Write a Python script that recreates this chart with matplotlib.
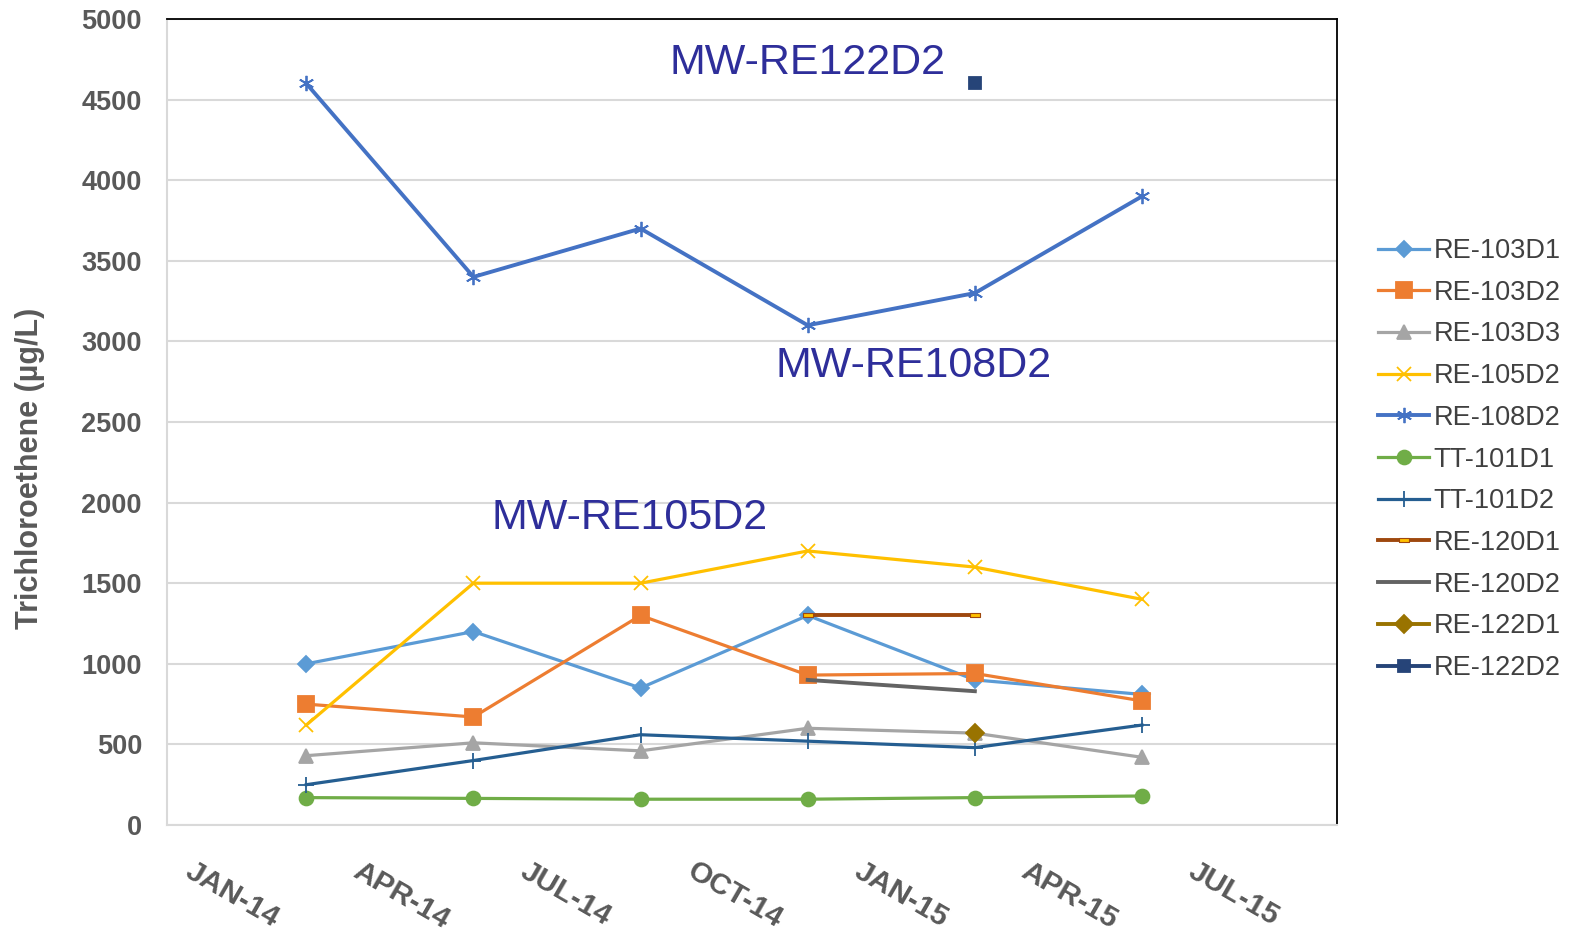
import numpy as np
import matplotlib
matplotlib.use('Agg')
import matplotlib.pyplot as plt

plt.rcParams['font.family'] = ['Liberation Sans', 'DejaVu Sans']

# sample months, counted from Jan-2014
meses = [2, 5, 8, 11, 14, 17]
ticks_meses = [0, 3, 6, 9, 12, 15, 18]
ticks_etiquetas = ['JAN-14', 'APR-14', 'JUL-14', 'OCT-14', 'JAN-15', 'APR-15', 'JUL-15']

nan = np.nan
re103d1 = [1000, 1200, 850, 1300, 900, 810]
re103d2 = [750, 670, 1300, 930, 940, 770]
re103d3 = [430, 510, 460, 600, 570, 420]
re105d2 = [620, 1500, 1500, 1700, 1600, 1400]
re108d2 = [4600, 3400, 3700, 3100, 3300, 3900]
tt101d1 = [170, 165, 160, 160, 170, 180]
tt101d2 = [250, 400, 560, 520, 480, 620]
re120d1 = [nan, nan, nan, 1300, 1300, nan]
re120d2 = [nan, nan, nan, 900, 830, nan]
re122d1 = [nan, nan, nan, nan, 570, nan]
re122d2 = [nan, nan, nan, nan, 4600, nan]

yticks = list(range(0, 5001, 500))

etiquetas = [('MW-RE122D2', 11.0, 4727), ('MW-RE108D2', 12.9, 2848), ('MW-RE105D2', 7.8, 1905)]

gris = '#595959'
fig = plt.figure(figsize=(15.78, 9.36), dpi=100)
ax = fig.add_axes([167 / 1578, 111 / 936, 1170 / 1578, 806 / 936])

dash_marker = [(-1, -0.45), (1, -0.45), (1, 0.45), (-1, 0.45), (-1, -0.45)]

series = [
    ('RE-103D1', re103d1, '#5B9BD5', 'D', 8, 2.3),
    ('RE-103D2', re103d2, '#ED7D31', 's', 11, 2.3),
    ('RE-103D3', re103d3, '#A5A5A5', '^', 10, 2.3),
    ('RE-105D2', re105d2, '#FFC000', 'x', 10, 2.3),
    ('RE-108D2', re108d2, '#4472C4', (6, 2, 0), 11, 2.8),
    ('TT-101D1', tt101d1, '#70AD47', 'o', 10, 2.3),
    ('TT-101D2', tt101d2, '#255E91', '+', 12, 2.3),
    ('RE-120D1', re120d1, '#9E480E', dash_marker, 7, 2.8),
    ('RE-120D2', re120d2, '#636363', None, 8, 2.8),
    ('RE-122D1', re122d1, '#997300', 'D', 9, 2.8),
    ('RE-122D2', re122d2, '#264478', 's', 9, 2.8),
]

for nombre, valores, color, marcador, ms, lw in series:
    if nombre == 'RE-120D1':
        ax.plot(meses, valores, color=color, lw=lw, marker=marcador, ms=ms,
                mfc='#FFC000', mec=color, mew=0.8, label=nombre, zorder=3)
    else:
        ax.plot(meses, valores, color=color, lw=lw, marker=marcador, ms=ms,
                mfc=color, mec=color, mew=1.3, label=nombre, zorder=3)

for texto, x, y in etiquetas:
    ax.text(x, y, texto, fontsize=31, color='#2E2E9A', ha='center', va='center')

ax.set_xlim(-0.5, 20.5)
ax.set_ylim(0, 5000)
ax.set_yticks(yticks)
ax.set_xticks(ticks_meses)
ax.set_xticklabels(ticks_etiquetas)
ax.grid(axis='y', color='#D9D9D9', lw=1.5)
ax.set_axisbelow(True)

ax.tick_params(axis='both', length=0, labelcolor=gris)
ax.tick_params(axis='y', pad=18, labelsize=19.5)
ax.tick_params(axis='x', pad=23, labelsize=21.5)
for t in ax.get_yticklabels():
    t.set_fontweight('bold')
plt.setp(ax.get_xticklabels(), rotation=-30, ha='left', va='top',
         rotation_mode='anchor', fontweight='bold')

ax.spines['left'].set_color('#D9D9D9')
ax.spines['bottom'].set_color('#D9D9D9')
ax.spines['left'].set_linewidth(1.5)
ax.spines['bottom'].set_linewidth(1.5)
ax.spines['top'].set_color('black')
ax.spines['right'].set_color('black')
ax.spines['top'].set_linewidth(1.3)
ax.spines['right'].set_linewidth(1.3)

fig.text(30 / 1578, 1 - 468 / 936, 'Trichloroethene (µg/L)', rotation=90,
         fontsize=22, fontweight='bold', color=gris, ha='center', va='center')

leg = ax.legend(loc='upper left', bbox_to_anchor=(1378 / 1578, 1 - 238 / 936),
                bbox_transform=fig.transFigure, frameon=False, fontsize=19.5,
                handlelength=1.9, handletextpad=0.15, labelspacing=0.58,
                borderpad=0, borderaxespad=0)
for t in leg.get_texts():
    t.set_color('#404040')

fig.savefig('out.png', dpi=100)
